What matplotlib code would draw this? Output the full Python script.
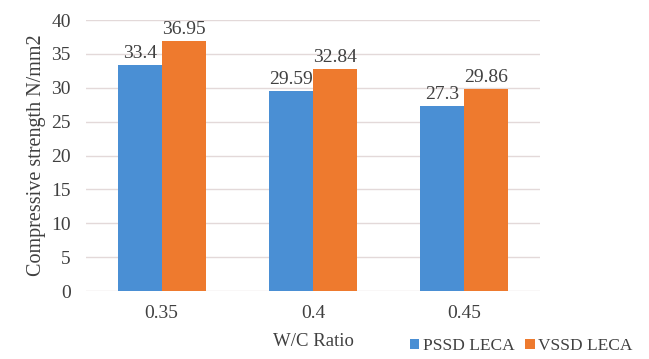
import matplotlib.pyplot as plt
import numpy as np

# datos del ensayo de compresion
ratios = ["0.35", "0.4", "0.45"]
pssd = [33.4, 29.59, 27.3]
vssd = [36.95, 32.84, 29.86]
series_names = ["PSSD LECA", "VSSD LECA"]
y_ticks = [0, 5, 10, 15, 20, 25, 30, 35, 40]

plt.rcParams['font.family'] = ['Liberation Serif', 'DejaVu Serif']
texto = "#404040"

fig = plt.figure(figsize=(6.49, 3.59), dpi=100)
ax = fig.add_axes([0.1325, 0.1894, 0.6995, 0.7546])

x = np.arange(len(ratios))
w = 0.29
b1 = ax.bar(x - w/2, pssd, w, color="#4A8FD4", label=series_names[0], zorder=3)
b2 = ax.bar(x + w/2, vssd, w, color="#EE7A2E", label=series_names[1], zorder=3)

for barras, vals in ((b1, pssd), (b2, vssd)):
    for r, v in zip(barras, vals):
        ax.text(r.get_x() + r.get_width()/2, v + 0.4, "{}".format(v),
                ha="center", va="bottom", fontsize=14, color=texto)

ax.set_xlim(-0.5, 2.5)
ax.set_ylim(0, 40)
ax.set_yticks(y_ticks)
ax.set_xticks(x)
ax.set_xticklabels(ratios)
ax.tick_params(length=0, labelsize=14, colors=texto, pad=10)
ax.tick_params(axis="y", pad=11)
ax.grid(axis="y", color="#E3D9D9", linewidth=1, zorder=0)
for s in ax.spines.values():
    s.set_visible(False)

ax.set_ylabel("Compressive strength N/mm2", fontsize=14.5, color=texto, labelpad=4)
ax.set_xlabel("W/C Ratio", fontsize=13.5, color=texto, labelpad=8)

fig.legend(loc="center", bbox_to_anchor=(0.803, 0.036), ncol=2, frameon=False,
           fontsize=12.5, handlelength=0.55, handleheight=0.55, handletextpad=0.2,
           columnspacing=0.6, labelcolor=texto)

fig.savefig("out.png", dpi=100)
